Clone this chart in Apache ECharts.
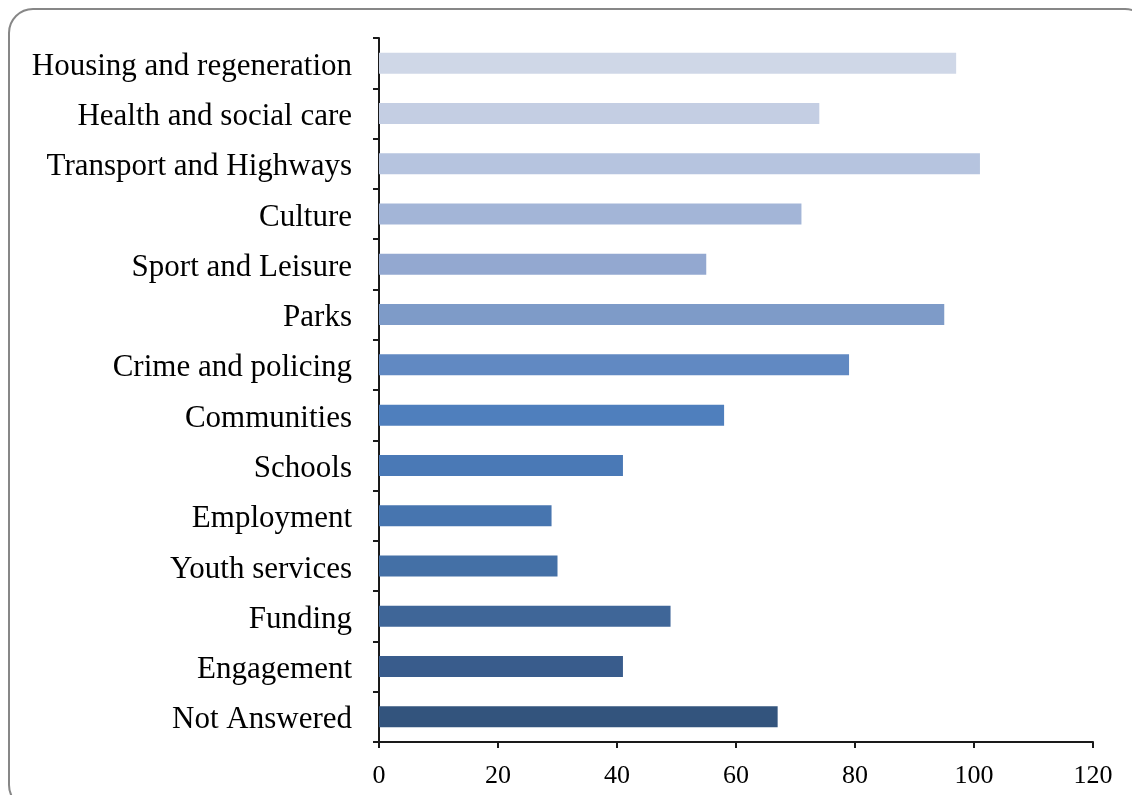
<!DOCTYPE html>
<html>
<head>
<meta charset="utf-8">
<script src="https://cdn.jsdelivr.net/npm/echarts@6/dist/echarts.min.js"></script>
<style>html,body{margin:0;padding:0;background:#fff;}#c{width:1132px;height:795px;}</style>
</head>
<body>
<div id="c"></div>
<script>
const categories = ["Housing and regeneration","Health and social care","Transport and Highways","Culture","Sport and Leisure","Parks","Crime and policing","Communities","Schools","Employment","Youth services","Funding","Engagement","Not Answered"];
const values = [97, 74, 101, 71, 55, 95, 79, 58, 41, 29, 30, 49, 41, 67];
const barColors = ["#CFD7E7","#C4CEE3","#B6C4DF","#A3B5D7","#93A8D0","#7E9BC8","#6189C2","#4F7FBD","#4A79B6","#4775AF","#4470A6","#3F6698","#395C8C","#33547D"];
const xTicks = [0, 20, 40, 60, 80, 100, 120];

const chart = echarts.init(document.getElementById('c'), null, {renderer: 'canvas'});
const font = "'Liberation Serif', 'Times New Roman', serif";
chart.setOption({
  animation: false,
  backgroundColor: '#fff',
  graphic: [{
    type: 'rect', z: -1,
    shape: {x: 9, y: 9, width: 1140, height: 800, r: 24},
    style: {fill: 'none', stroke: '#878787', lineWidth: 2}
  }],
  grid: {left: 379, right: 39, top: 38, bottom: 53, containLabel: false},
  xAxis: {
    type: 'value', min: xTicks[0], max: xTicks[xTicks.length - 1], interval: 20,
    splitLine: {show: false},
    axisLine: {show: true, onZero: false, lineStyle: {color: '#1a1a1a', width: 2}},
    axisTick: {show: true, length: 6, lineStyle: {color: '#1a1a1a', width: 2}},
    axisLabel: {color: '#000', fontFamily: font, fontSize: 26, margin: 21}
  },
  yAxis: {
    type: 'category', data: categories, inverse: true,
    axisLine: {show: true, lineStyle: {color: '#1a1a1a', width: 2}},
    axisTick: {show: true, length: 6, lineStyle: {color: '#1a1a1a', width: 2}},
    axisLabel: {
      color: '#000', fontFamily: font, fontSize: 31, margin: 27,
      formatter: v => '{a|' + v + '}',
      rich: {a: {color: '#000', fontFamily: font, fontSize: 31, padding: [7, 0, 0, 0]}}
    }
  },
  series: [{
    type: 'bar',
    barWidth: 21,
    data: values.map((v, i) => ({value: v, itemStyle: {color: barColors[i]}}))
  }]
});
</script>
</body>
</html>
